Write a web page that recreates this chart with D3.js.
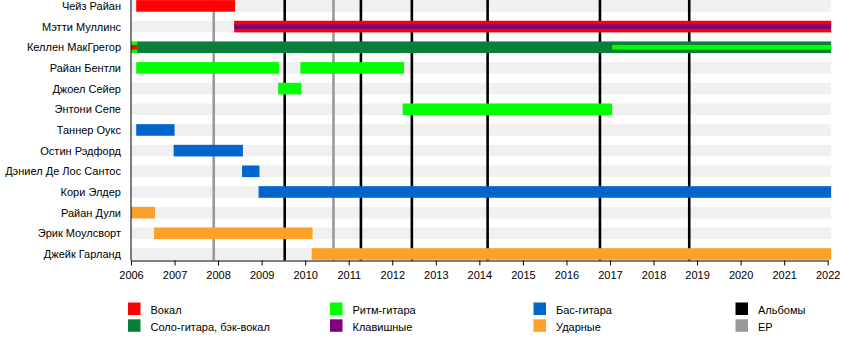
<!DOCTYPE html>
<html>
<head>
<meta charset="utf-8">
<script src="https://cdn.jsdelivr.net/npm/d3@7"></script>
<style>
  html, body { margin: 0; padding: 0; background: #ffffff; }
  svg { display: block; font-family: "Liberation Sans", Arial, sans-serif; }
</style>
</head>
<body>
<svg id="chart" width="850" height="350"></svg>
<script>
// ---- data ----
const members = [
  "Чейз Райан", "Мэтти Муллинс", "Келлен МакГрегор", "Райан Бентли",
  "Джоел Сейер", "Энтони Сепе", "Таннер Оукс", "Остин Рэдфорд",
  "Дэниел Де Лос Сантос", "Кори Элдер", "Райан Дули", "Эрик Моулсворт",
  "Джейк Гарланд"
];
const roles = ["Вокал", "Соло-гитара, бэк-вокал", "Ритм-гитара", "Клавишные", "Бас-гитара", "Ударные"];
const endDate = 2022.08;
// main bars: [member, role, start, end]
const periods = [
  ["Чейз Райан", "Вокал", 2006.12, 2008.39],
  ["Мэтти Муллинс", "Вокал", 2008.37, endDate],
  ["Келлен МакГрегор", "Ритм-гитара", 2006.0, 2006.14],
  ["Келлен МакГрегор", "Соло-гитара, бэк-вокал", 2006.14, endDate],
  ["Райан Бентли", "Ритм-гитара", 2006.12, 2009.4],
  ["Райан Бентли", "Ритм-гитара", 2009.89, 2012.27],
  ["Джоел Сейер", "Ритм-гитара", 2009.38, 2009.91],
  ["Энтони Сепе", "Ритм-гитара", 2012.24, 2017.05],
  ["Таннер Оукс", "Бас-гитара", 2006.12, 2007.0],
  ["Остин Рэдфорд", "Бас-гитара", 2006.98, 2008.57],
  ["Дэниел Де Лос Сантос", "Бас-гитара", 2008.55, 2008.95],
  ["Кори Элдер", "Бас-гитара", 2008.93, endDate],
  ["Райан Дули", "Ударные", 2006.0, 2006.55],
  ["Эрик Моулсворт", "Ударные", 2006.53, 2010.17],
  ["Джейк Гарланд", "Ударные", 2010.15, endDate]
];
// secondary roles drawn as a thin stripe inside the bar: [member, role, start, end]
const stripes = [
  ["Мэтти Муллинс", "Клавишные", 2008.37, endDate],
  ["Келлен МакГрегор", "Вокал", 2006.0, 2006.14],
  ["Келлен МакГрегор", "Ритм-гитара", 2017.05, endDate]
];
const albums = [2009.53, 2011.28, 2012.45, 2014.19, 2016.77, 2018.82];
const eps = [2007.9, 2010.65];
const years = [2006, 2007, 2008, 2009, 2010, 2011, 2012, 2013, 2014, 2015, 2016, 2017, 2018, 2019, 2020, 2021, 2022];
const legendItems = [
  ["Вокал", "Соло-гитара, бэк-вокал"],
  ["Ритм-гитара", "Клавишные"],
  ["Бас-гитара", "Ударные"],
  ["Альбомы", "EP"]
];

// ---- styles ----
const colors = {
  "Вокал": "#ff0000",
  "Соло-гитара, бэк-вокал": "#0a7f3a",
  "Ритм-гитара": "#00ff00",
  "Клавишные": "#800080",
  "Бас-гитара": "#0066cc",
  "Ударные": "#ffa028",
  "Альбомы": "#000000",
  "EP": "#999999"
};

const svg = d3.select("#chart");
const x = d3.scaleLinear().domain([2006, 2022]).range([131, 827.7]);
const y = d3.scalePoint().domain(members).range([5.9, 254]);
const barH = 11.6;
const axisY = 260.5;

// background bands
svg.append("g").selectAll("rect").data(members).join("rect")
  .attr("x", x(2006)).attr("width", x(endDate) - x(2006))
  .attr("y", d => y(d) - barH / 2).attr("height", barH)
  .attr("fill", "#f0f0f0");

// event lines
svg.append("g").selectAll("line").data(eps).join("line")
  .attr("x1", d => x(d)).attr("x2", d => x(d))
  .attr("y1", 0).attr("y2", axisY)
  .attr("stroke", colors["EP"]).attr("stroke-width", 2.6);
svg.append("g").selectAll("line").data(albums).join("line")
  .attr("x1", d => x(d)).attr("x2", d => x(d))
  .attr("y1", 0).attr("y2", axisY)
  .attr("stroke", colors["Альбомы"]).attr("stroke-width", 2.6);

// bars
svg.append("g").selectAll("rect").data(periods).join("rect")
  .attr("x", d => x(d[2])).attr("width", d => x(d[3]) - x(d[2]))
  .attr("y", d => y(d[0]) - barH / 2).attr("height", barH)
  .attr("fill", d => colors[d[1]]);

// stripes
const stripeH = 4.6;
svg.append("g").selectAll("rect").data(stripes).join("rect")
  .attr("x", d => x(d[2])).attr("width", d => x(d[3]) - x(d[2]))
  .attr("y", d => y(d[0]) - stripeH / 2).attr("height", stripeH)
  .attr("fill", d => colors[d[1]]);

// axes
const xAxis = d3.axisBottom(x).tickValues(years).tickFormat(d3.format("d"))
  .tickSize(5).tickSizeOuter(0).tickPadding(6);
const gx = svg.append("g").attr("transform", `translate(0,${axisY})`).call(xAxis);
gx.select(".domain").attr("stroke", "#000");
gx.selectAll(".tick line").attr("stroke", "#000");
gx.selectAll("text").attr("font-size", 11).attr("fill", "#000")
  .attr("font-family", "Liberation Sans, Arial, sans-serif");

svg.append("line")
  .attr("x1", x(2006)).attr("x2", x(2006))
  .attr("y1", 0).attr("y2", axisY)
  .attr("stroke", "#000").attr("stroke-width", 1);

// member labels
svg.append("g").selectAll("text").data(members).join("text")
  .attr("x", 121).attr("y", d => y(d) + 4)
  .attr("text-anchor", "end").attr("font-size", 11).attr("fill", "#000")
  .text(d => d);

// legend
const colX = [128, 330, 533.5, 735.5];
const rowY = [302.5, 319.3];
const lg = svg.append("g");
legendItems.forEach((col, ci) => {
  col.forEach((name, ri) => {
    lg.append("rect").attr("x", colX[ci]).attr("y", rowY[ri])
      .attr("width", 12.5).attr("height", 12.5).attr("fill", colors[name]);
    lg.append("text").attr("x", colX[ci] + 22.5).attr("y", rowY[ri] + 11.8)
      .attr("font-size", 11).attr("fill", "#000").text(name);
  });
});
</script>
</body>
</html>
